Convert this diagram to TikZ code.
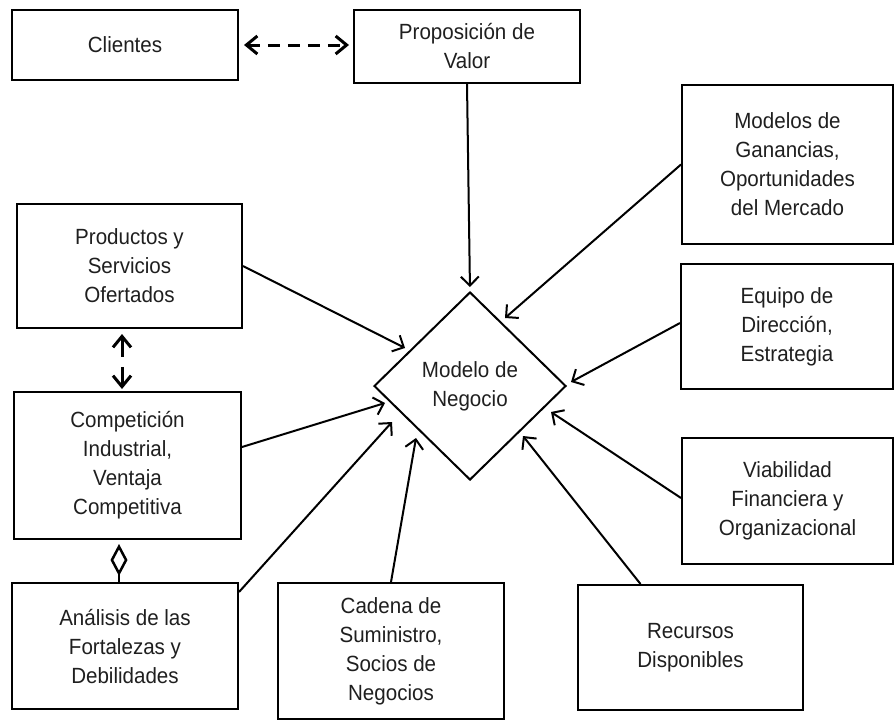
\documentclass[tikz,border=0pt]{standalone}
\usepackage{fontspec}
\setmainfont{Liberation Sans}[FakeStretch=0.935]
\usetikzlibrary{shapes.geometric,arrows.meta,calc}
\begin{document}
\begin{tikzpicture}[x=1pt,y=-1pt,
  every node/.style={text=black!88, font=\fontsize{22}{29}\selectfont},
  box/.style={draw=black, line width=2pt, align=center, inner sep=0pt},
  conn/.style={draw=black, line width=2pt, -{Straight Barb[length=9pt,width=18pt]}},
  dconn/.style={draw=black, line width=3pt, {Straight Barb[length=11pt,width=18pt]}-{Straight Barb[length=11pt,width=18pt]}},
]
\useasboundingbox (0,0) rectangle (896,720);
\node[box, minimum width=226pt, minimum height=70pt] (cli) at (125,45) {Clientes};
\node[box, minimum width=226pt, minimum height=73pt] (prop) at (467,46.5) {Proposición de\\Valor};
\node[box, minimum width=211pt, minimum height=159pt] (mod) at (787.5,164.5) {Modelos de\\Ganancias,\\Oportunidades\\del Mercado};
\node[box, minimum width=212pt, minimum height=125pt] (equ) at (787,326.5) {Equipo de\\Dirección,\\Estrategia};
\node[box, minimum width=211pt, minimum height=126pt] (via) at (787.5,501) {Viabilidad\\Financiera y\\Organizacional};
\node[box, minimum width=225pt, minimum height=124pt] (prod) at (129.5,266) {Productos y\\Servicios\\Ofertados};
\node[box, minimum width=227pt, minimum height=147pt] (comp) at (127.5,465.5) {Competición\\Industrial,\\Ventaja\\Competitiva};
\node[box, minimum width=226pt, minimum height=126pt] (anal) at (125,646) {Análisis de las\\Fortalezas y\\Debilidades};
\node[box, minimum width=226pt, minimum height=136pt] (cad) at (391,651) {Cadena de\\Suministro,\\Socios de\\Negocios};
\node[box, minimum width=225pt, minimum height=125pt] (rec) at (690.5,647.5) {Recursos\\Disponibles};
\node[draw=black, line width=2pt, diamond, minimum width=192pt, minimum height=188pt, inner sep=0pt, align=center] (dm) at (470,386) {Modelo de\\Negocio};

% connectors into the diamond
\draw[conn, shorten >=4pt] (prop.south) -- (dm.north);
\draw[conn] (mod.west) -- ($(dm.center)+(35,-68)$);
\draw[conn] ([yshift=3.5pt]equ.west) -- ($(dm.center)+(101,-4)$);
\draw[conn] ([yshift=3pt]via.west) -- ($(dm.center)+(81,26)$);
\draw[conn] ([xshift=-50pt]rec.north) -- ($(dm.center)+(53,50)$);
\draw[conn] (cad.north) -- ($(dm.center)+(-54,52)$);
\draw[conn] ([yshift=-10pt]anal.north east) -- ($(dm.center)+(-78,36)$);
\draw[conn] ([yshift=18.5pt]comp.east) -- ($(dm.center)+(-85,17)$);
\draw[conn] (prod.east) -- ($(dm.center)+(-65,-38)$);

% dashed two-way connectors
\draw[dconn, dash pattern=on 12pt off 8pt, shorten <=5pt, shorten >=4pt] (cli.east) -- (cli.east -| prop.west);
\draw[dconn, dash pattern=on 19pt off 10pt on 40pt off 10pt, shorten <=5pt, shorten >=2pt] ([xshift=-7.5pt]prod.south) -- ([xshift=-7.5pt]prod.south |- comp.north);

% aggregation connector
\draw[draw=black, line width=2.5pt, -{Diamond[open,length=32pt,width=17pt]}, shorten >=4pt] ([xshift=-6pt]anal.north) -- ([xshift=-6pt]anal.north |- comp.south);
\end{tikzpicture}
\end{document}
